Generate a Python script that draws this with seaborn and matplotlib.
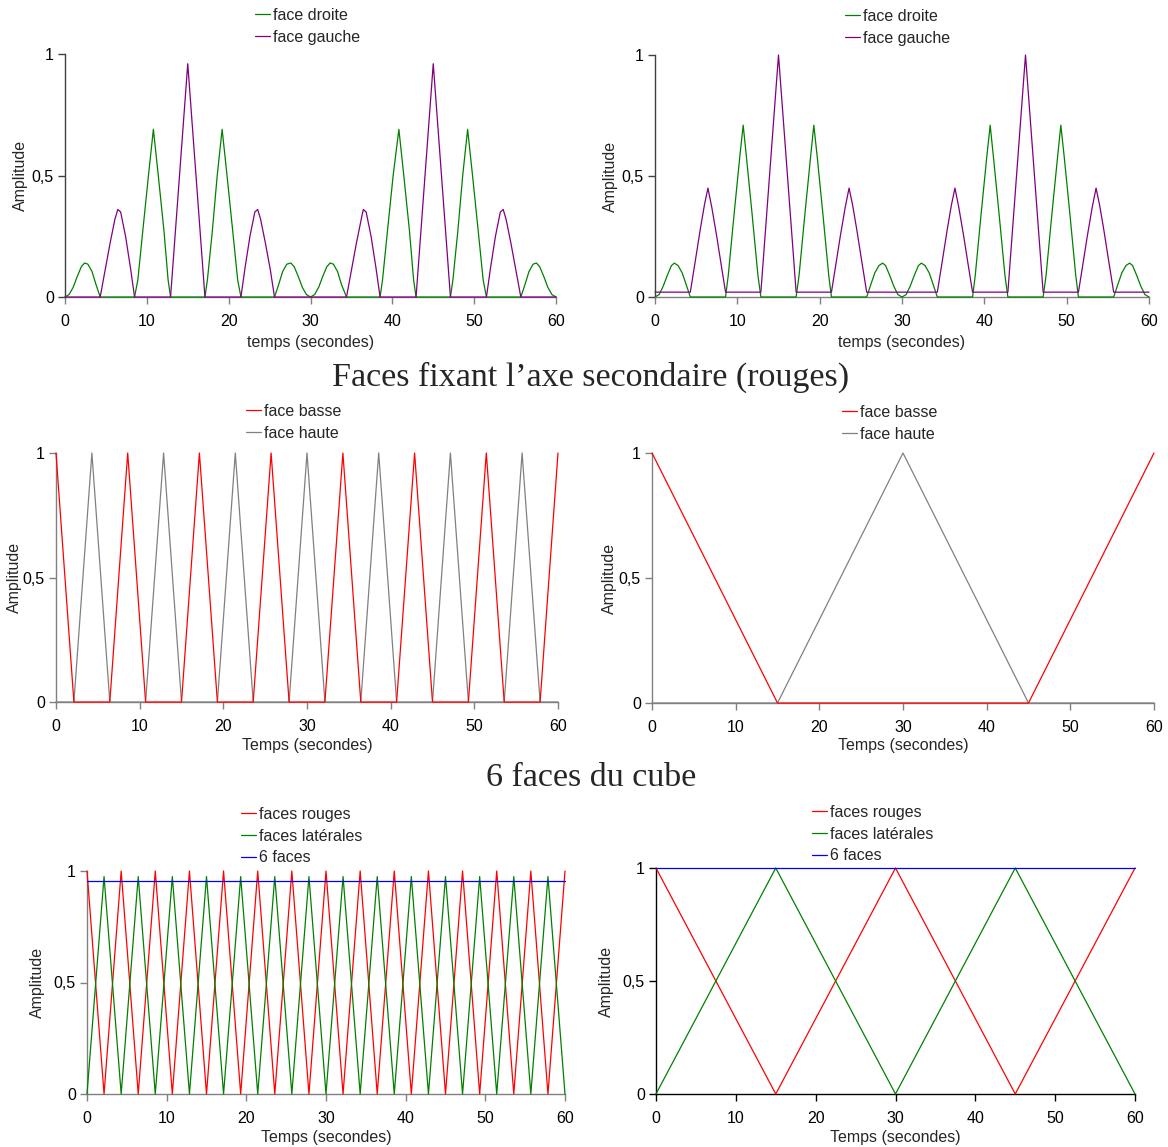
import matplotlib
matplotlib.use('Agg')
import matplotlib.pyplot as plt
import seaborn as sns

# ---------------------------------------------------------------- données
y_ticks = [0, 0.5, 1]
y_tick_labels = ['0', '0,5', '1']
x_ticks = [0, 10, 20, 30, 40, 50, 60]

# haut gauche
tl_t_droite = [0, 0.5, 1.0, 1.5, 2.0, 2.4, 2.8, 3.3, 3.8, 4.3,
               8.5, 8.9, 9.5, 10.2, 10.8, 11.4, 12.1, 12.6, 12.9,
               17.1, 17.4, 18.0, 18.6, 19.2, 19.8, 20.5, 21.1, 21.5,
               25.6, 26.1, 26.6, 27.1, 27.6, 28.0, 28.5, 29.0, 29.5, 30.0,
               30.5, 31.0, 31.5, 32.0, 32.4, 32.8, 33.3, 33.8, 34.4,
               38.5, 38.8, 39.4, 40.1, 40.8, 41.4, 42.1, 42.6, 42.9,
               47.1, 47.4, 48.0, 48.6, 49.2, 49.8, 50.5, 51.1, 51.5,
               55.7, 56.2, 56.7, 57.2, 57.6, 58.0, 58.5, 59.0, 59.5, 60.0]
tl_y_droite = [0, 0.01, 0.04, 0.085, 0.125, 0.14, 0.135, 0.105, 0.05, 0,
               0, 0.07, 0.27, 0.5, 0.69, 0.5, 0.27, 0.07, 0,
               0, 0.07, 0.27, 0.5, 0.69, 0.5, 0.27, 0.07, 0,
               0, 0.05, 0.105, 0.135, 0.14, 0.125, 0.085, 0.04, 0.01, 0,
               0.01, 0.04, 0.085, 0.125, 0.14, 0.135, 0.105, 0.05, 0,
               0, 0.07, 0.27, 0.5, 0.69, 0.5, 0.27, 0.07, 0,
               0, 0.07, 0.27, 0.5, 0.69, 0.5, 0.27, 0.07, 0,
               0, 0.05, 0.105, 0.135, 0.14, 0.125, 0.085, 0.04, 0.01, 0]
tl_t_gauche = [0, 4.3, 4.9, 5.5, 6.1, 6.45, 6.8, 7.4, 8.0, 8.5,
               12.9, 15.0, 17.1,
               21.5, 22.0, 22.6, 23.2, 23.55, 23.9, 24.5, 25.1, 25.6,
               34.4, 35.0, 35.6, 36.2, 36.45, 36.8, 37.4, 38.0, 38.5,
               42.9, 45.0, 47.1,
               51.5, 52.0, 52.6, 53.2, 53.55, 53.9, 54.5, 55.1, 55.7, 60.0]
tl_y_gauche = [0, 0, 0.11, 0.22, 0.32, 0.36, 0.35, 0.25, 0.12, 0,
               0, 0.96, 0,
               0, 0.12, 0.25, 0.35, 0.36, 0.32, 0.22, 0.11, 0,
               0, 0.11, 0.22, 0.32, 0.36, 0.35, 0.25, 0.12, 0,
               0, 0.96, 0,
               0, 0.12, 0.25, 0.35, 0.36, 0.32, 0.22, 0.11, 0, 0]

# haut droite
tr_t_droite = [0, 0.5, 1.0, 1.5, 2.0, 2.35, 2.8, 3.3, 3.8, 4.29,
               8.57, 8.9, 9.6, 10.3, 10.71, 11.1, 11.8, 12.5, 12.86,
               17.14, 17.5, 18.2, 18.9, 19.29, 19.7, 20.4, 21.1, 21.43,
               25.71, 26.2, 26.7, 27.2, 27.65, 28.0, 28.5, 29.0, 29.5, 30.0,
               30.5, 31.0, 31.5, 32.0, 32.35, 32.8, 33.3, 33.8, 34.29,
               38.57, 38.9, 39.6, 40.3, 40.71, 41.1, 41.8, 42.5, 42.86,
               47.14, 47.5, 48.2, 48.9, 49.29, 49.7, 50.4, 51.1, 51.43,
               55.71, 56.2, 56.7, 57.2, 57.65, 58.0, 58.5, 59.0, 59.5, 60.0]
tr_y_droite = [0, 0.01, 0.045, 0.09, 0.13, 0.14, 0.13, 0.1, 0.05, 0,
               0, 0.09, 0.34, 0.58, 0.71, 0.58, 0.34, 0.09, 0,
               0, 0.09, 0.34, 0.58, 0.71, 0.58, 0.34, 0.09, 0,
               0, 0.05, 0.1, 0.13, 0.14, 0.13, 0.09, 0.045, 0.01, 0,
               0.01, 0.045, 0.09, 0.13, 0.14, 0.13, 0.1, 0.05, 0,
               0, 0.09, 0.34, 0.58, 0.71, 0.58, 0.34, 0.09, 0,
               0, 0.09, 0.34, 0.58, 0.71, 0.58, 0.34, 0.09, 0,
               0, 0.05, 0.1, 0.13, 0.14, 0.13, 0.09, 0.045, 0.01, 0]
tr_t_gauche = [0, 4.29, 4.9, 5.5, 6.0, 6.43, 6.9, 7.5, 8.1, 8.57,
               12.86, 15.0, 17.14,
               21.43, 21.9, 22.5, 23.1, 23.57, 24.0, 24.5, 25.1, 25.71,
               34.29, 34.9, 35.5, 36.0, 36.43, 36.9, 37.5, 38.1, 38.57,
               42.86, 45.0, 47.14,
               51.43, 51.9, 52.5, 53.1, 53.57, 54.0, 54.5, 55.1, 55.71, 60.0]
tr_y_gauche = [0.02, 0.02, 0.15, 0.28, 0.38, 0.45, 0.37, 0.25, 0.12, 0.02,
               0.02, 1.0, 0.02,
               0.02, 0.12, 0.25, 0.37, 0.45, 0.38, 0.28, 0.15, 0.02,
               0.02, 0.15, 0.28, 0.38, 0.45, 0.37, 0.25, 0.12, 0.02,
               0.02, 1.0, 0.02,
               0.02, 0.12, 0.25, 0.37, 0.45, 0.38, 0.28, 0.15, 0.02, 0.02]

# milieu gauche
ml_t_basse = [0, 2.14, 6.43, 8.57, 10.71, 15.0, 17.14, 19.29, 23.57, 25.71,
              27.86, 32.14, 34.29, 36.43, 40.71, 42.86, 45.0, 49.29, 51.43,
              53.57, 57.86, 60.0]
ml_y_basse = [1, 0, 0, 1, 0, 0, 1, 0, 0, 1, 0, 0, 1, 0, 0, 1, 0, 0, 1, 0, 0, 1]
ml_t_haute = [0, 2.14, 4.29, 6.43, 10.71, 12.86, 15.0, 19.29, 21.43, 23.57,
              27.86, 30.0, 32.14, 36.43, 38.57, 40.71, 45.0, 47.14, 49.29,
              53.57, 55.71, 57.86, 60.0]
ml_y_haute = [0, 0, 1, 0, 0, 1, 0, 0, 1, 0, 0, 1, 0, 0, 1, 0, 0, 1, 0, 0, 1, 0, 0]

# milieu droite
mr_t_basse = [0, 15, 45, 60]
mr_y_basse = [1, 0, 0, 1]
mr_t_haute = [0, 15, 30, 45, 60]
mr_y_haute = [0, 0, 1, 0, 0]

# bas gauche
bl_t = [0, 2.14, 4.29, 6.43, 8.57, 10.71, 12.86, 15.0, 17.14, 19.29, 21.43,
        23.57, 25.71, 27.86, 30.0, 32.14, 34.29, 36.43, 38.57, 40.71, 42.86,
        45.0, 47.14, 49.29, 51.43, 53.57, 55.71, 57.86, 60.0]
bl_y_rouges = [1, 0, 1, 0, 1, 0, 1, 0, 1, 0, 1, 0, 1, 0, 1,
               0, 1, 0, 1, 0, 1, 0, 1, 0, 1, 0, 1, 0, 1]
bl_y_laterales = [0, 0.975, 0, 0.975, 0, 0.975, 0, 0.975, 0, 0.975, 0, 0.975,
                  0, 0.975, 0, 0.975, 0, 0.975, 0, 0.975, 0, 0.975, 0, 0.975,
                  0, 0.975, 0, 0.975, 0]
bl_t_six = [0, 60]
bl_y_six = [0.953, 0.953]

# bas droite
br_t = [0, 15, 30, 45, 60]
br_y_rouges = [1, 0, 1, 0, 1]
br_y_laterales = [0, 1, 0, 1, 0]
br_y_six = [1, 1, 1, 1, 1]

# ---------------------------------------------------------------- style
sns.set_style('ticks')
plt.rcParams['font.family'] = ['Liberation Sans', 'DejaVu Sans']
FS = 11.5

W, H = 1168, 1147
fig = plt.figure(figsize=(W / 100, H / 100), dpi=100)

GREEN, PURPLE, RED, GREY, BLUE = '#008000', '#800080', '#ff0000', '#808080', '#0000ff'


def panel(box, series, order, leg_xy, xlabel, spine_cols, ylab_x, xlab_y):
    # box = (gauche, haut, droite, bas) en pixels
    x0, y0, x1, y1 = box
    ax = fig.add_axes([x0 / W, 1 - y1 / H, (x1 - x0) / W, (y1 - y0) / H])
    lines = {}
    for name, t, y, c in series:
        sns.lineplot(x=t, y=y, ax=ax, color=c, lw=0.9, estimator=None,
                     sort=False, zorder=3, clip_on=False)
        lines[name] = ax.lines[-1]
    if ax.get_legend():
        ax.get_legend().remove()

    ax.set_xlim(0, 60)
    ax.set_ylim(0, 1)
    ax.set_xticks(x_ticks)
    ax.set_yticks(y_ticks)
    ax.set_yticklabels(y_tick_labels)
    ax.tick_params(direction='out', length=5, width=1,
                   labelsize=FS, colors='black')
    ax.tick_params(axis='y', color=spine_cols[0], pad=3)
    ax.tick_params(axis='x', color=spine_cols[1], pad=7.5)
    ax.spines['left'].set_color(spine_cols[0])
    ax.spines['bottom'].set_color(spine_cols[1])
    for s in ('left', 'bottom'):
        ax.spines[s].set_linewidth(1)
    sns.despine(ax=ax)

    ax.set_ylabel('Amplitude', fontsize=FS)
    ax.set_xlabel(xlabel, fontsize=FS)
    ax.yaxis.set_label_coords((ylab_x - x0) / (x1 - x0), 0.5)
    ax.xaxis.set_label_coords(0.5, (y1 - xlab_y) / (y1 - y0))

    ax.legend([lines[n] for n in order], order, loc='upper left',
              bbox_to_anchor=(leg_xy[0] / W, 1 - leg_xy[1] / H),
              bbox_transform=fig.transFigure, frameon=False, fontsize=FS,
              handlelength=0.95, handletextpad=0.15, labelspacing=0.42,
              borderpad=0, borderaxespad=0)
    return ax


panel((65, 54, 556, 297),
      [('face droite', tl_t_droite, tl_y_droite, GREEN),
       ('face gauche', tl_t_gauche, tl_y_gauche, PURPLE)],
      ['face droite', 'face gauche'], (255, 8), 'temps (secondes)',
      ('#404040', GREY), 28, 335)

panel((655, 55, 1149, 297),
      [('face droite', tr_t_droite, tr_y_droite, GREEN),
       ('face gauche', tr_t_gauche, tr_y_gauche, PURPLE)],
      ['face droite', 'face gauche'], (845, 9), 'temps (secondes)',
      ('#404040', GREY), 618, 335)

panel((56, 453, 558, 702),
      [('face haute', ml_t_haute, ml_y_haute, GREY),
       ('face basse', ml_t_basse, ml_y_basse, RED)],
      ['face basse', 'face haute'], (246, 404), 'Temps (secondes)',
      (GREY, GREY), 22, 738)

panel((652, 453, 1154, 703),
      [('face haute', mr_t_haute, mr_y_haute, GREY),
       ('face basse', mr_t_basse, mr_y_basse, RED)],
      ['face basse', 'face haute'], (842, 405), 'Temps (secondes)',
      (GREY, GREY), 617, 738)

panel((87, 871, 565, 1094),
      [('faces rouges', bl_t, bl_y_rouges, RED),
       ('faces latérales', bl_t, bl_y_laterales, GREEN),
       ('6 faces', bl_t_six, bl_y_six, BLUE)],
      ['faces rouges', 'faces latérales', '6 faces'], (241, 807),
      'Temps (secondes)', (GREY, GREY), 45, 1130)

panel((656, 868, 1135, 1094),
      [('faces rouges', br_t, br_y_rouges, RED),
       ('faces latérales', br_t, br_y_laterales, GREEN),
       ('6 faces', br_t, br_y_six, BLUE)],
      ['faces rouges', 'faces latérales', '6 faces'], (812, 805),
      'Temps (secondes)', ('black', 'black'), 614, 1130)

fig.text(591 / W, 1 - 377 / H, 'Faces fixant l\u2019axe secondaire (rouges)',
         ha='center', va='center', fontsize=24.5, family='Liberation Serif')
fig.text(591 / W, 1 - 778 / H, '6 faces du cube',
         ha='center', va='center', fontsize=24.5, family='Liberation Serif')

fig.savefig('out.png', dpi=100)
